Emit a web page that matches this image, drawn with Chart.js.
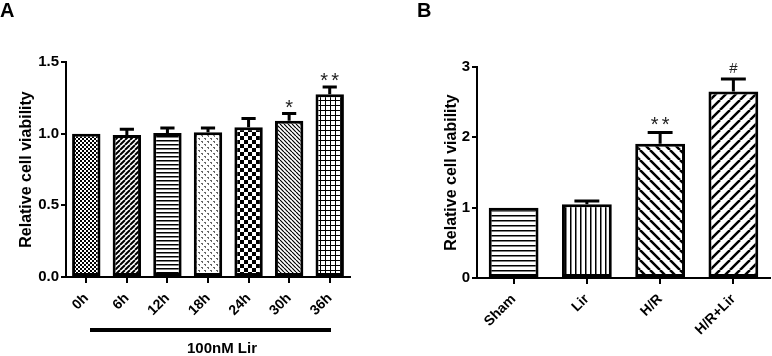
<!DOCTYPE html>
<html>
<head>
<meta charset="utf-8">
<script src="https://cdn.jsdelivr.net/npm/chart.js@4.4.1/dist/chart.umd.min.js"></script>
<style>
  body { margin: 0; background: #fff; width: 772px; height: 356px; position: relative; overflow: hidden; }
  canvas { position: absolute; top: 0; }
  #chart-a { left: 0; }
  #chart-b { left: 390px; }
</style>
</head>
<body>
<canvas id="chart-a" width="390" height="356"></canvas>
<canvas id="chart-b" width="382" height="356"></canvas>
<script>
// Panel A: viability over time with 100nM Lir
const timeLabels = ['0h', '6h', '12h', '18h', '24h', '30h', '36h'];
const timeValues = [1.00, 0.99, 1.005, 1.01, 1.045, 1.09, 1.275];
const timeErrors = [0, 0.04, 0.035, 0.03, 0.06, 0.05, 0.05];
const timeMarks = ['', '', '', '', '', '*', '**'];
const timeTicks = [0, 0.5, 1.0, 1.5];

// Panel B: treatment groups
const groupLabels = ['Sham', 'Lir', 'H/R', 'H/R+Lir'];
const groupValues = [1.00, 1.05, 1.91, 2.65];
const groupErrors = [0, 0.045, 0.16, 0.18];
const groupMarks = ['', '', '**', '#'];
const groupTicks = [0, 1, 2, 3];

const FONT = "'Liberation Sans', Arial, sans-serif";

function pattern(canvasId, size, draw) {
    const c = document.createElement('canvas');
    c.width = c.height = size;
    const g = c.getContext('2d');
    g.fillStyle = '#fff';
    g.fillRect(0, 0, size, size);
    g.fillStyle = '#000';
    g.strokeStyle = '#000';
    draw(g, size);
    return document.getElementById(canvasId).getContext('2d').createPattern(c, 'repeat');
}

const slash = (lw) => (g, s) => {
    g.lineWidth = lw;
    g.beginPath();
    for (let k = -1; k <= 1; k++) { g.moveTo(k * s, s); g.lineTo(k * s + s, 0); }
    g.stroke();
};
const backslash = (lw) => (g, s) => {
    g.lineWidth = lw;
    g.beginPath();
    for (let k = -1; k <= 1; k++) { g.moveTo(k * s, 0); g.lineTo(k * s + s, s); }
    g.stroke();
};
const hLines = (lw) => (g, s) => g.fillRect(0, 0, s, lw);
const vLines = (lw) => (g, s) => g.fillRect(0, 0, lw, s);
const checker = (g, s) => { g.fillRect(0, 0, s / 2, s / 2); g.fillRect(s / 2, s / 2, s / 2, s / 2); };
const grid = (g, s) => { g.fillRect(0, 0, s, 1); g.fillRect(0, 0, 1, s); };
const specks = (g, s) => {
    g.fillStyle = '#666';
    g.fillRect(0, 0, 2, 1); g.fillRect(1, 1, 1, 1);
    g.fillRect(3, 3, 2, 1); g.fillRect(4, 4, 1, 1);
};

const fillsA = [
    pattern('chart-a', 4, checker),
    pattern('chart-a', 5, slash(2)),
    pattern('chart-a', 4, hLines(1.5)),
    pattern('chart-a', 6, specks),
    pattern('chart-a', 8, checker),
    pattern('chart-a', 4, backslash(1.2)),
    pattern('chart-a', 5, grid),
];
const fillsB = [
    pattern('chart-b', 5, hLines(1.5)),
    pattern('chart-b', 5, vLines(1.5)),
    pattern('chart-b', 10, backslash(2.5)),
    pattern('chart-b', 10, slash(2.5)),
];

// draws upper error bars and significance marks
const errorBars = {
    id: 'errorBars',
    afterDatasetsDraw(chart, args, opts) {
        const { ctx } = chart;
        const y = chart.scales.y;
        const ds = chart.data.datasets[0];
        const meta = chart.getDatasetMeta(0);
        ctx.save();
        ctx.strokeStyle = '#000';
        ctx.lineWidth = 3;
        meta.data.forEach((bar, i) => {
            const top = y.getPixelForValue(ds.data[i] + opts.errors[i]);
            if (opts.errors[i]) {
                const half = bar.width / 4;
                ctx.beginPath();
                ctx.moveTo(bar.x, bar.y);
                ctx.lineTo(bar.x, top);
                ctx.moveTo(bar.x - half, top);
                ctx.lineTo(bar.x + half, top);
                ctx.stroke();
            }
            const mark = opts.marks[i];
            if (!mark) return;
            ctx.fillStyle = '#222';
            ctx.textAlign = 'center';
            ctx.textBaseline = 'alphabetic';
            const chars = mark.split('');
            chars.forEach((ch, j) => {
                ctx.font = (ch === '#' ? '15px ' : '20px ') + FONT;
                const m = ctx.measureText(ch);
                const base = top - opts.gap + (m.actualBoundingBoxAscent - m.actualBoundingBoxDescent) / 2;
                const cx = bar.x + (j - (chars.length - 1) / 2) * 11;
                ctx.fillText(ch, cx, base);
            });
        });
        ctx.restore();
    }
};

const extras = {
    id: 'extras',
    afterDraw(chart, args, opts) {
        const { ctx } = chart;
        ctx.save();
        ctx.fillStyle = '#000';
        ctx.font = 'bold 20px ' + FONT;
        ctx.textBaseline = 'top';
        ctx.textAlign = 'left';
        ctx.fillText(opts.letter, opts.letterX, 1);
        if (opts.bracket) {
            const b = opts.bracket;
            ctx.fillRect(b.x0, b.y - 2, b.x1 - b.x0, 4);
            ctx.font = 'bold 15px ' + FONT;
            ctx.textAlign = 'center';
            ctx.textBaseline = 'middle';
            ctx.fillText(b.text, b.tx, b.ty);
        }
        ctx.restore();
    }
};

function makeChart(id, labels, values, fills, ticks, opts) {
    new Chart(document.getElementById(id), {
        type: 'bar',
        data: {
            labels: labels,
            datasets: [{
                data: values,
                backgroundColor: fills,
                borderColor: '#000',
                borderWidth: 3,
                borderSkipped: false,
                barPercentage: opts.barPct,
                categoryPercentage: 1,
            }]
        },
        options: {
            responsive: false,
            animation: false,
            layout: { padding: { left: 0, right: opts.padRight, top: opts.padTop, bottom: 0 } },
            plugins: {
                legend: { display: false },
                tooltip: { enabled: false },
                errorBars: { errors: opts.errors, marks: opts.marks, gap: opts.gap },
                extras: opts.extras,
            },
            scales: {
                x: {
                    afterFit: (s) => { s.height = opts.xHeight; },
                    grid: { drawOnChartArea: false, offset: false, tickLength: 6, color: '#000', lineWidth: 2 },
                    border: { color: '#000', width: 2 },
                    ticks: { color: '#000', minRotation: 45, maxRotation: 45, padding: 7,
                             font: { family: FONT, size: 14, weight: 'bold' } },
                },
                y: {
                    min: 0, max: ticks[ticks.length - 1],
                    afterFit: (s) => { s.width = opts.yWidth; },
                    afterBuildTicks: (s) => { s.ticks = ticks.map(v => ({ value: v })); },
                    grid: { drawOnChartArea: false, tickLength: 5, color: '#000', lineWidth: 2 },
                    border: { color: '#000', width: 2 },
                    ticks: { color: '#000', padding: 2, font: { family: FONT, size: 15, weight: 'bold' },
                             callback: opts.tickFmt },
                    title: { display: true, text: 'Relative cell viability', color: '#000',
                             padding: { top: opts.titlePad, bottom: 0 },
                             font: { family: FONT, size: 16, weight: 'bold' } },
                }
            }
        },
        plugins: [errorBars, extras]
    });
}

makeChart('chart-a', timeLabels, timeValues, fillsA, timeTicks, {
    barPct: 0.7, padRight: 40, padTop: 62, xHeight: 79, yWidth: 66, titlePad: 17, gap: 10,
    errors: timeErrors, marks: timeMarks,
    tickFmt: (v) => Number(v).toFixed(1),
    extras: { letter: 'A', letterX: 0,
              bracket: { x0: 90, x1: 331, y: 330, text: '100nM Lir', tx: 222, ty: 349 } },
});

makeChart('chart-b', groupLabels, groupValues, fillsB, groupTicks, {
    barPct: 0.68, padRight: 2, padTop: 67, xHeight: 78, yWidth: 87, titlePad: 52, gap: 11,
    errors: groupErrors, marks: groupMarks,
    tickFmt: (v) => String(v),
    extras: { letter: 'B', letterX: 27, bracket: null },
});
</script>
</body>
</html>
